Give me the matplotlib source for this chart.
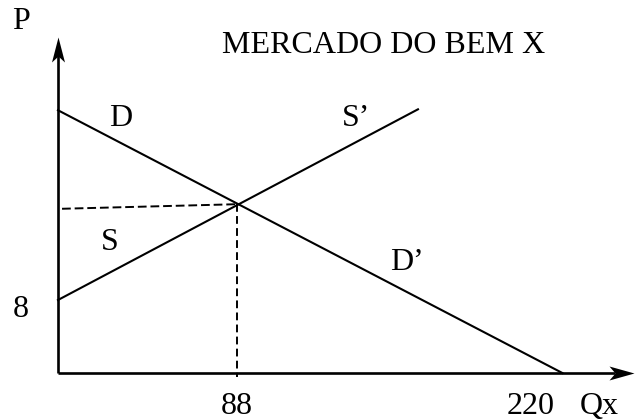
import matplotlib
matplotlib.use("Agg")
import matplotlib.pyplot as plt
from matplotlib.path import Path

# ── Data (schematic supply / demand) ─────────────────────────────────────────
Q_DEMAND = [0, 248]
P_DEMAND = [28.8, 0]
Q_SUPPLY = [0, 177]
P_SUPPLY = [8, 28.9]
Q_EQ, P_EQ = 88, 18.5
P_EQ_LEFT = 18.0          # dashed guide is drawn slightly tilted in the original
Q_TICKS = ["88", "220"]
P_TICKS = ["8"]
TITLE = "MERCADO DO BEM X"

Q_AXIS_END, P_AXIS_END = 283.0, 36.8

# ── Figure ───────────────────────────────────────────────────────────────────
plt.rcParams.update({
    "font.family": ["Liberation Serif", "DejaVu Serif"],
    "font.size": 23,
})

fig = plt.figure(figsize=(6.35, 4.2), dpi=100)
ax = fig.add_axes([0, 0, 1, 1])
ax.set_xlim(-28.5, 283.7)
ax.set_ylim(-5.15, 40.88)
ax.axis("off")

# stealth-style arrow heads, tip at the path origin
up_head = Path([(0, 0), (-6.5, -25), (0, -19), (6.5, -25), (0, 0)],
               [Path.MOVETO, Path.LINETO, Path.LINETO, Path.LINETO, Path.CLOSEPOLY])
right_head = Path([(0, 0), (-25, 7), (-19, 0), (-25, -7), (0, 0)],
                  [Path.MOVETO, Path.LINETO, Path.LINETO, Path.LINETO, Path.CLOSEPOLY])
HEAD_MS = 2 * 25 * 72 / 100   # marker size in pt so that the head is ~25 px long

ax.plot([0, 0], [0, P_AXIS_END - 2.0], color="black", lw=1.9, solid_capstyle="butt")
ax.plot([0, Q_AXIS_END - 9.0], [0, 0], color="black", lw=1.9, solid_capstyle="butt")
ax.plot([0], [P_AXIS_END], marker=up_head, ms=HEAD_MS, color="black", mew=0)
ax.plot([Q_AXIS_END], [0], marker=right_head, ms=HEAD_MS, color="black", mew=0)

# curves
ax.plot(Q_DEMAND, P_DEMAND, color="black", lw=1.5)
ax.plot(Q_SUPPLY, P_SUPPLY, color="black", lw=1.5)

# dashed guides to equilibrium
ax.plot([2, Q_EQ], [P_EQ_LEFT, P_EQ], color="black", lw=1.4, dashes=(4.5, 2))
ax.plot([Q_EQ, Q_EQ], [P_EQ, -0.4], color="black", lw=1.4, dashes=(4, 2.2))

# labels
ax.text(-18.2, 37.7, "P", ha="center", va="baseline")
ax.text(80.6, 35.1, TITLE, ha="left", va="baseline")
ax.text(31.0, 27.1, "D", ha="center", va="baseline")
ax.text(139.6, 27.1, "S\u2019", ha="left", va="baseline")
ax.text(25.6, 13.5, "S", ha="center", va="baseline")
ax.text(163.2, 11.3, "D\u2019", ha="left", va="baseline")
ax.text(-18.2, 6.1, P_TICKS[0], ha="center", va="baseline")
ax.text(Q_EQ, -4.5, Q_TICKS[0], ha="center", va="baseline")
ax.text(232.5, -4.5, Q_TICKS[1], ha="center", va="baseline")
ax.text(256.6, -4.5, "Qx", ha="left", va="baseline")

fig.savefig("out.png", dpi=100)
plt.close(fig)
